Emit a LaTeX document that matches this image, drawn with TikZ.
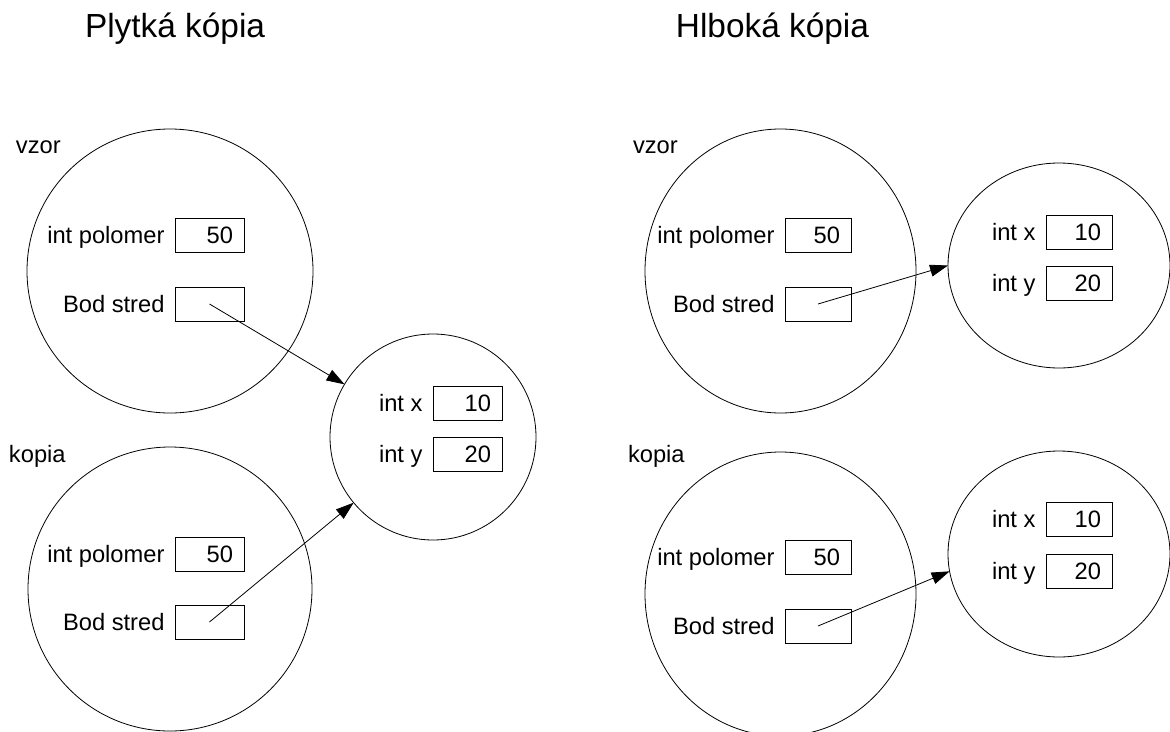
\documentclass[tikz,border=0pt]{standalone}
\usepackage{fontspec}
\setmainfont{Liberation Sans}
\usetikzlibrary{arrows.meta,shapes.geometric}
\begin{document}
\begin{tikzpicture}[x=1pt,y=-1pt,
  every node/.style={inner sep=0pt, outer sep=0pt},
  obj/.style={draw, ellipse, line width=0.8pt},
  cell/.style={draw, line width=0.9pt, minimum height=34pt},
  fieldlbl/.style={font=\fontsize{23.7}{28}\selectfont, anchor=base east, xshift=-10.5pt, yshift=-8pt},
  fieldval/.style={font=\fontsize{23.7}{28}\selectfont, anchor=base east, xshift=-11pt, yshift=-8pt},
  varname/.style={font=\fontsize{23.7}{28}\selectfont, anchor=base west},
  heading/.style={font=\fontsize{33.4}{40}\selectfont},
  ref/.style={-{Triangle[length=18pt,width=12pt]}, line width=0.8pt}]
\useasboundingbox (0,0) rectangle (1170,731);

% ---- shallow copy ----
\node[heading, anchor=base west] (t1) at (85,37) {Plytká kópia};

\node[obj, minimum width=286pt, minimum height=284pt] (vz) at (170,271) {};
\node[varname] (vzN) at (16,153) {vzor};
\node[cell, minimum width=69pt] (vzP) at (209.5,235) {};
\node[cell, minimum width=69pt] (vzS) at (209.5,304) {};
\node[fieldlbl] (vzPl) at (vzP.west) {int polomer};
\node[fieldval] (vzPv) at (vzP.east) {50};
\node[fieldlbl] (vzSl) at (vzS.west) {Bod stred};

\node[obj, minimum width=284pt, minimum height=284pt] (kp) at (170,589) {};
\node[varname] (kpN) at (9,462) {kopia};
\node[cell, minimum width=69pt] (kpP) at (209.5,554) {};
\node[cell, minimum width=69pt] (kpS) at (209.5,622) {};
\node[fieldlbl] (kpPl) at (kpP.west) {int polomer};
\node[fieldval] (kpPv) at (kpP.east) {50};
\node[fieldlbl] (kpSl) at (kpS.west) {Bod stred};

\node[obj, minimum width=206pt, minimum height=206pt] (bod) at (433,437) {};
\node[cell, minimum width=69pt] (bodX) at (467.5,403) {};
\node[cell, minimum width=69pt] (bodY) at (467.5,454.5) {};
\node[fieldlbl] (bodXl) at (bodX.west) {int x};
\node[fieldval] (bodXv) at (bodX.east) {10};
\node[fieldlbl] (bodYl) at (bodY.west) {int y};
\node[fieldval] (bodYv) at (bodY.east) {20};

\draw[ref] (vzS.center) -- (bod);
\draw[ref] (kpS.center) -- (bod);

% ---- deep copy ----
\node[heading, anchor=base east] (t2) at (869,37) {Hlboká kópia};

\node[obj, minimum width=271pt, minimum height=284pt] (hvz) at (780.5,271) {};
\node[varname] (hvzN) at (633,153) {vzor};
\node[cell, minimum width=66pt] (hvzP) at (818,235) {};
\node[cell, minimum width=66pt] (hvzS) at (818,304) {};
\node[fieldlbl] (hvzPl) at (hvzP.west) {int polomer};
\node[fieldval] (hvzPv) at (hvzP.east) {50};
\node[fieldlbl] (hvzSl) at (hvzS.west) {Bod stred};

\node[obj, minimum width=222pt, minimum height=205pt] (hvzB) at (1059,265.5) {};
\node[cell, minimum width=66pt] (hvzX) at (1079,232) {};
\node[cell, minimum width=66pt] (hvzY) at (1079,283) {};
\node[fieldlbl] (hvzXl) at (hvzX.west) {int x};
\node[fieldval] (hvzXv) at (hvzX.east) {10};
\node[fieldlbl] (hvzYl) at (hvzY.west) {int y};
\node[fieldval] (hvzYv) at (hvzY.east) {20};

\node[obj, minimum width=271pt, minimum height=284pt] (hkp) at (780.5,594) {};
\node[varname] (hkpN) at (628,462) {kopia};
\node[cell, minimum width=66pt] (hkpP) at (818,557.5) {};
\node[cell, minimum width=66pt] (hkpS) at (818,626) {};
\node[fieldlbl] (hkpPl) at (hkpP.west) {int polomer};
\node[fieldval] (hkpPv) at (hkpP.east) {50};
\node[fieldlbl] (hkpSl) at (hkpS.west) {Bod stred};

\node[obj, minimum width=222pt, minimum height=206pt] (hkpB) at (1059,554) {};
\node[cell, minimum width=66pt] (hkpX) at (1079,519.5) {};
\node[cell, minimum width=66pt] (hkpY) at (1079,571) {};
\node[fieldlbl] (hkpXl) at (hkpX.west) {int x};
\node[fieldval] (hkpXv) at (hkpX.east) {10};
\node[fieldlbl] (hkpYl) at (hkpY.west) {int y};
\node[fieldval] (hkpYv) at (hkpY.east) {20};

\draw[ref] (hvzS.center) -- (hvzB.west);
\draw[ref] (hkpS.center) -- (hkpB.189);
\end{tikzpicture}
\end{document}
